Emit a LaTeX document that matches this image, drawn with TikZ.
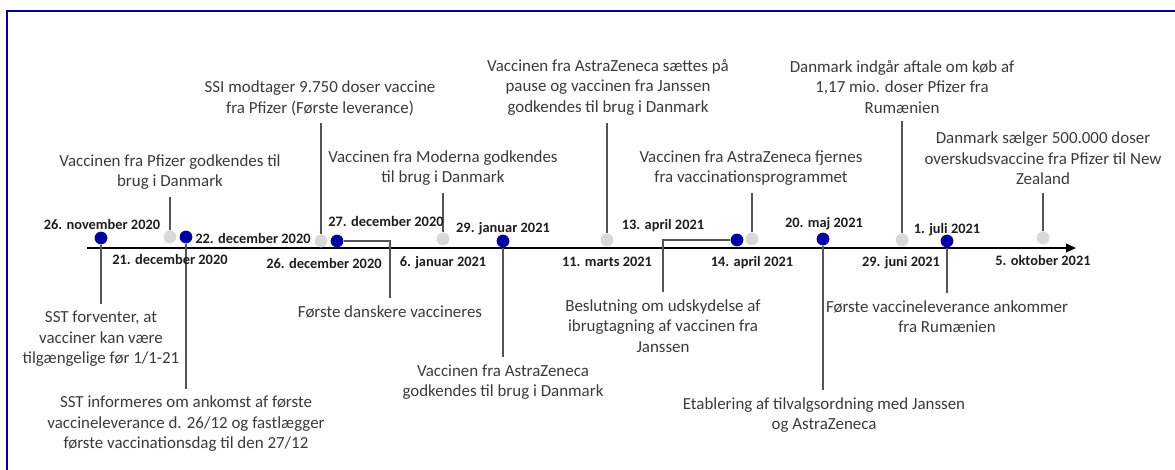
\documentclass[tikz,border=0pt]{standalone}
\usepackage{fontspec}
\setmainfont{Carlito}
\usetikzlibrary{arrows.meta}

\begin{document}
\begin{tikzpicture}[
    x=.75pt,y=-.75pt,
    font=\fontsize{12.7}{15.4}\selectfont,
    evt/.style={align=center,inner xsep=0pt,inner ysep=5.5pt,text=evtgray},
    datelbl/.style={font=\bfseries\fontsize{10.8}{12}\selectfont,inner sep=0pt,anchor=base,text=datetext},
    bluedot/.style={circle,fill=dotblue,minimum size=9.6pt,inner sep=0pt},
    graydot/.style={circle,fill=dotgray,minimum size=9.6pt,inner sep=0pt},
    conn/.style={draw=conngray,line width=.9pt}
  ]
    \definecolor{dotblue}{HTML}{0000A0}
    \definecolor{dotgray}{HTML}{D9D9D9}
    \definecolor{evtgray}{HTML}{3A3A3A}
    \definecolor{datetext}{HTML}{1E1E1E}
    \definecolor{conngray}{HTML}{555555}
    \definecolor{frameblue}{HTML}{0000A0}
    \path[use as bounding box] (0,0) rectangle (1175,469);
    % frame round the figure
    \draw[frameblue,line width=1.5pt] (7,490) -- (7,11) -- (1195,11);
    % time axis
    \coordinate (tstart) at (87,248);
    \coordinate (tend) at (1076,248);
    \draw[line width=1.5pt,-{Triangle[length=7.5pt,width=6.5pt]}] (tstart) -- (tend);
    % events above the axis
    \node[evt] (e21dec) at (170,172) {Vaccinen fra Pfizer godkendes til\\brug i Danmark};
    \node[evt] (e26dec) at (320,98.5) {SSI modtager 9.750 doser vaccine\\fra Pfizer (Første leverance)};
    \node[evt] (e06jan) at (443,168) {Vaccinen fra Moderna godkendes\\til brug i Danmark};
    \node[evt] (e11mar) at (608,87) {Vaccinen fra AstraZeneca sættes på\\pause og vaccinen fra Janssen\\godkendes til brug i Danmark};
    \node[evt] (e14apr) at (751,168) {Vaccinen fra AstraZeneca fjernes\\fra vaccinationsprogrammet};
    \node[evt] (e29jun) at (902,87) {Danmark indgår aftale om køb af\\1,17 mio. doser Pfizer fra\\Rumænien};
    \node[evt] (e05okt) at (1043,158.5) {Danmark sælger 500.000 doser\\overskudsvaccine fra Pfizer til New\\Zealand};
    % events below the axis
    \node[evt] (e26nov) at (101,339) {SST forventer, at\\vacciner kan være\\tilgængelige før 1/1-21};
    \node[evt] (e22dec) at (186,424) {SST informeres om ankomst af første\\vaccineleverance d. 26/12 og fastlægger\\første vaccinationsdag til den 27/12};
    \node[evt] (e27dec) at (390,312) {Første danskere vaccineres};
    \node[evt] (e29jan) at (503,382) {Vaccinen fra AstraZeneca\\godkendes til brug i Danmark};
    \node[evt] (e13apr) at (663,326) {Beslutning om udskydelse af\\ibrugtagning af vaccinen fra\\Janssen};
    \node[evt] (e20maj) at (824,415) {Etablering af tilvalgsordning med Janssen\\og AstraZeneca};
    \node[evt] (e01jul) at (947,316.5) {Første vaccineleverance ankommer\\fra Rumænien};
    % dots on the axis
    \node[bluedot] (d26nov) at (101,238) {};
    \node[graydot] (d21dec) at (170,237) {};
    \node[bluedot] (d22dec) at (186,237) {};
    \node[graydot] (d26dec) at (321,241) {};
    \node[bluedot] (d27dec) at (337,241) {};
    \node[graydot] (d06jan) at (443,239) {};
    \node[bluedot] (d29jan) at (503,241) {};
    \node[graydot] (d11mar) at (607,240) {};
    \node[bluedot] (d13apr) at (737,240) {};
    \node[graydot] (d14apr) at (752,239) {};
    \node[bluedot] (d20maj) at (823,239) {};
    \node[graydot] (d29jun) at (902,240) {};
    \node[bluedot] (d01jul) at (947,241) {};
    \node[graydot] (d05okt) at (1043,238) {};
    % connectors
    \draw[conn] (d21dec) -- (d21dec |- e21dec.south);
    \draw[conn] (d26dec) -- (d26dec |- e26dec.south);
    \draw[conn] (d06jan) -- (d06jan |- e06jan.south);
    \draw[conn] (d11mar) -- (d11mar |- e11mar.south);
    \draw[conn] (d14apr) -- (d14apr |- e14apr.south);
    \draw[conn] (d29jun) -- (d29jun |- e29jun.south);
    \draw[conn] (d05okt) -- (d05okt |- e05okt.south);
    \draw[conn] (d26nov) -- (d26nov |- e26nov.north);
    \draw[conn] (d22dec) -- (d22dec |- e22dec.north);
    \draw[conn] (d27dec) -| (e27dec.north);
    \draw[conn] (d29jan) -- (d29jan |- e29jan.north);
    \draw[conn] (d13apr) -| (e13apr.north);
    \draw[conn] (d20maj) -- (d20maj |- e20maj.north);
    \draw[conn] (d01jul) -- (d01jul |- e01jul.north);
    % dates
    \node[datelbl] (l26nov) at (102,229.5) {26. november 2020};
    \node[datelbl] (l21dec) at (170,264.5) {21. december 2020};
    \node[datelbl] (l22dec) at (253,243.5) {22. december 2020};
    \node[datelbl] (l26dec) at (324,268.5) {26. december 2020};
    \node[datelbl] (l27dec) at (386,226.5) {27. december 2020};
    \node[datelbl] (l06jan) at (443,266.5) {6. januar 2021};
    \node[datelbl] (l29jan) at (503,232.5) {29. januar 2021};
    \node[datelbl] (l11mar) at (607,266.5) {11. marts 2021};
    \node[datelbl] (l13apr) at (663,229.5) {13. april 2021};
    \node[datelbl] (l14apr) at (752,266.5) {14. april 2021};
    \node[datelbl] (l20maj) at (824,227.5) {20. maj 2021};
    \node[datelbl] (l29jun) at (901,266.5) {29. juni 2021};
    \node[datelbl] (l01jul) at (947,233.5) {1. juli 2021};
    \node[datelbl] (l05okt) at (1043,265.5) {5. oktober 2021};
  \end{tikzpicture}
\end{document}
